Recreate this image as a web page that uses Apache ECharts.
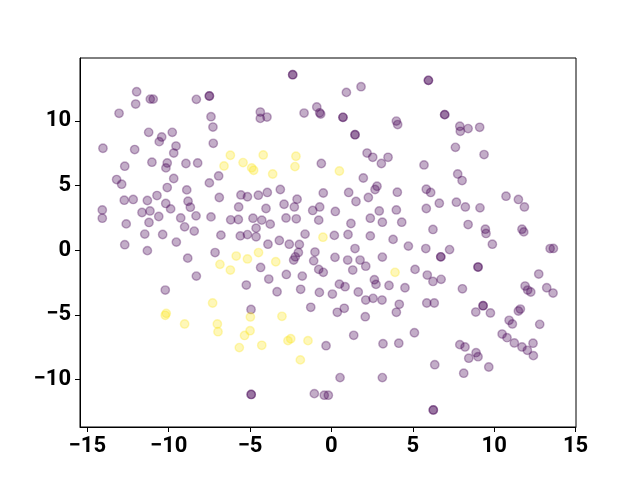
<!DOCTYPE html>
<html>

<head>
    <meta charset="UTF-8">
    <script src="https://cdn.jsdelivr.net/npm/echarts@6/dist/echarts.min.js"></script>
    <style>
    html, body {
        margin: 0;
        padding: 0;
        background: #fff;
    }
    #chart {
        width: 640px;
        height: 480px;
    }
    </style>
</head>

<body>
    <div id="chart"></div>
    <script>
    // 类别 0 (紫色)
    var purplePoints = [
        [-11.97, 12.25], [-12.03, 11.30], [-11.13, 11.68], [-10.95, 11.68], [-13.05, 10.58], [-8.30, 11.66],
        [-7.50, 11.92], [-7.50, 11.92], [-7.40, 10.32], [-7.28, 9.52], [-7.26, 8.26], [-11.23, 9.11],
        [-9.78, 9.11], [-10.43, 8.75], [-10.58, 8.39], [-9.55, 8.05], [-9.69, 7.51], [-14.04, 7.88],
        [-12.09, 7.78], [-11.03, 6.80], [-10.09, 6.74], [-10.17, 6.36], [-8.94, 6.70], [-8.22, 6.74],
        [-12.70, 6.49], [-13.20, 5.46], [-12.89, 5.10], [-9.69, 5.54], [-7.50, 5.20], [-6.93, 5.74],
        [-10.09, 4.84], [-8.89, 4.66], [-10.72, 4.22], [-12.73, 3.86], [-12.18, 3.92], [-11.31, 3.84],
        [-8.81, 3.78], [-10.18, 3.61], [-9.88, 3.19], [-14.08, 3.11], [-14.08, 2.47], [-11.64, 2.91],
        [-11.15, 3.03], [-8.67, 3.32], [-10.61, 2.60], [-9.26, 2.49], [-8.32, 2.65], [-7.40, 2.57],
        [-11.21, 2.14], [-12.61, 2.03], [-9.02, 1.80], [-8.43, 1.47], [-11.47, 1.24], [-10.37, 1.21],
        [-9.53, 0.62], [-12.70, 0.42], [-11.31, -0.04], [-7.15, -0.19], [-6.89, 4.07], [-5.56, 4.27],
        [-5.16, 4.13], [-5.70, 3.34], [-6.19, 2.34], [-5.72, 2.37], [-6.79, 1.16], [-5.60, 1.10],
        [-5.16, 1.20],
        [-2.38, 13.57], [-2.38, 13.57], [0.92, 12.20], [1.82, 12.64], [-4.37, 10.68], [-4.37, 10.19],
        [-3.96, 10.29], [-1.68, 10.60], [-0.90, 11.07], [-0.72, 10.62], [-0.66, 10.52], [0.71, 10.27],
        [0.71, 10.27], [3.99, 9.98], [4.07, 9.71], [1.45, 8.93], [1.45, 8.93], [2.19, 7.51],
        [2.54, 7.18], [3.07, 6.70], [3.48, 7.18], [-0.62, 6.70], [1.96, 5.58], [2.68, 4.69],
        [2.80, 4.94], [4.05, 4.48], [-0.50, 4.42], [1.06, 4.46], [1.51, 3.76], [2.27, 4.07],
        [-3.14, 4.69], [-3.94, 4.46], [-4.49, 4.25], [-2.11, 3.94], [-2.91, 3.55], [-2.28, 3.34],
        [-4.02, 3.22], [-0.72, 3.34], [-1.15, 3.07], [0.24, 2.99], [2.94, 3.03], [3.99, 3.11],
        [-4.82, 2.47], [-4.28, 2.32], [-3.76, 2.01], [-2.79, 2.49], [-2.16, 2.42], [-0.78, 2.32],
        [1.20, 2.06], [2.39, 2.47], [3.13, 2.16], [4.32, 2.16], [-4.63, 1.70], [-4.63, 1.03],
        [-1.62, 1.24], [0.18, 1.14], [1.02, 1.21], [2.39, 1.10], [3.79, 0.83], [4.73, 0.31],
        [-3.90, 0.46], [-3.20, 0.75], [-2.59, 0.46], [-1.97, 0.44], [1.45, 0.12], [-1.01, -0.15],
        [5.96, 13.13], [5.96, 13.13], [6.96, 10.48], [6.96, 10.48], [7.89, 9.58], [7.92, 9.19],
        [8.40, 9.40], [9.11, 9.50], [7.62, 7.95], [9.38, 7.39], [5.69, 6.59], [7.76, 5.89],
        [8.03, 5.38], [5.83, 4.71], [6.10, 4.46], [6.63, 3.63], [5.83, 3.22], [7.68, 3.71],
        [8.23, 3.34], [9.13, 3.27], [10.73, 4.17], [11.49, 3.92], [11.86, 3.34], [6.24, 1.60],
        [8.40, 1.98], [9.46, 1.62], [9.50, 1.29], [11.71, 1.62], [11.82, 1.41], [9.89, 0.46],
        [13.44, 0.12], [13.64, 0.13], [5.80, 0.12], [7.26, 0.04],
        [-2.03, -0.18], [-2.22, -0.52], [-2.32, -0.77], [-1.09, -0.83], [0.22, -0.56], [1.00, -0.77],
        [1.76, -0.77], [2.11, -1.24], [3.13, -0.54], [5.14, -1.49], [-4.35, -1.34], [-2.77, -1.88],
        [-1.79, -2.01], [-0.78, -1.49], [-0.50, -1.72], [1.31, -1.54], [-3.85, -2.24], [-5.23, -2.70],
        [-3.34, -3.22], [-1.89, -3.03], [-0.74, -3.27], [0.06, -3.40], [0.49, -2.63], [0.84, -2.83],
        [1.65, -3.24], [2.64, -2.29], [2.74, -2.65], [3.54, -2.73], [4.52, -2.91], [2.11, -3.86],
        [2.56, -3.73], [3.11, -3.86], [4.17, -4.19], [3.99, -4.81], [-1.27, -4.42], [0.36, -4.81],
        [0.79, -4.50], [2.08, -5.15], [-4.94, -4.59], [1.37, -6.59], [-0.33, -7.39], [3.17, -7.24],
        [4.14, -7.20], [5.10, -6.39], [0.53, -9.86], [3.13, -9.86], [-4.93, -11.16], [-4.93, -11.16],
        [-1.05, -11.10], [-0.44, -11.22], [-0.19, -11.22],
        [-8.83, -0.62], [-8.30, -2.01], [-10.21, -3.09],
        [6.72, -0.52], [6.72, -0.52], [9.01, -1.31], [9.01, -1.31], [5.89, -1.93], [6.24, -2.42],
        [6.74, -2.26], [8.05, -2.99], [12.74, -1.85], [11.90, -2.78], [12.06, -3.09], [12.25, -3.24],
        [13.23, -2.91], [13.62, -3.32], [5.86, -4.09], [6.32, -4.09], [9.32, -4.30], [9.32, -4.30],
        [8.87, -4.79], [9.77, -4.86], [11.61, -4.56], [11.49, -4.71], [10.92, -5.43], [11.12, -5.71],
        [12.80, -5.74], [10.49, -6.49], [10.79, -6.77], [11.24, -7.18], [11.71, -7.49], [12.04, -7.75],
        [12.39, -7.20], [12.41, -8.16], [7.89, -7.31], [8.21, -7.49], [8.89, -7.93], [9.01, -8.24],
        [8.44, -8.36], [9.67, -9.04], [6.35, -8.86], [8.13, -9.52], [6.26, -12.36], [6.26, -12.36]
    ];

    // 类别 1 (黄色)
    var yellowPoints = [
        [-6.21, 7.34], [-6.60, 6.51], [-5.43, 6.77], [-4.90, 6.36], [-4.78, 6.18], [-4.19, 7.36],
        [-2.18, 7.26], [-2.24, 6.46], [-3.61, 5.89], [0.49, 6.12], [-0.52, 1.00], [-4.48, -0.19],
        [-5.85, -0.46], [-5.16, -0.68], [-6.85, -1.10], [-6.21, -1.54], [-7.30, -4.09], [-10.15, -4.89],
        [-10.21, -5.04], [-9.02, -5.71], [-7.01, -5.71], [-6.97, -6.31], [-4.98, -5.17], [-5.00, -6.23],
        [-5.34, -6.60], [-5.66, -7.54], [-3.42, -0.90], [3.91, -1.72], [-3.04, -5.12], [-4.28, -7.36],
        [-2.50, -6.85], [-2.67, -7.00], [-1.44, -7.00], [-1.91, -8.49]
    ];

    var xTicks = [-15, -10, -5, 0, 5, 10, 15];
    var yTicks = [-10, -5, 0, 5, 10];

    function fmt(v) {
        // matplotlib 风格的负号
        return v < 0 ? '\u2212' + Math.abs(v) : String(v);
    }

    var labelStyle = {
        fontFamily: 'Roboto',
        fontWeight: 'bold',
        fontSize: 22,
        color: '#000',
        formatter: fmt
    };

    var option = {
        animation: false,
        backgroundColor: '#fff',
        grid: {
            left: 80,
            top: 58,
            width: 496,
            height: 369,
            show: true,
            borderColor: '#000',
            borderWidth: 1,
            backgroundColor: 'transparent'
        },
        xAxis: {
            type: 'value',
            min: -15.45,
            max: 15.03,
            splitLine: { show: false },
            axisLine: { show: true, onZero: false, lineStyle: { color: '#000', width: 1 } },
            axisTick: { show: true, inside: false, length: 5, customValues: xTicks, lineStyle: { color: '#000', width: 1 } },
            axisLabel: Object.assign({ margin: 8, customValues: xTicks }, labelStyle)
        },
        yAxis: {
            type: 'value',
            min: -13.68,
            max: 14.86,
            splitLine: { show: false },
            axisLine: { show: true, onZero: false, lineStyle: { color: '#000', width: 1 } },
            axisTick: { show: true, inside: false, length: 5, customValues: yTicks, lineStyle: { color: '#000', width: 1 } },
            axisLabel: Object.assign({ margin: 9, customValues: yTicks }, labelStyle)
        },
        series: [{
            type: 'scatter',
            symbol: 'circle',
            symbolSize: 8.4,
            itemStyle: {
                color: 'rgba(68,1,84,0.32)',
                borderColor: 'rgba(68,1,84,0.32)',
                borderWidth: 1.4,
                opacity: 1
            },
            data: purplePoints
        }, {
            type: 'scatter',
            symbol: 'circle',
            symbolSize: 8.4,
            itemStyle: {
                color: 'rgba(253,231,37,0.32)',
                borderColor: 'rgba(253,231,37,0.32)',
                borderWidth: 1.4,
                opacity: 1
            },
            data: yellowPoints
        }]
    };

    var myChart = echarts.init(document.getElementById('chart'), null, { renderer: 'canvas' });
    myChart.setOption(option);
    </script>
</body>

</html>
